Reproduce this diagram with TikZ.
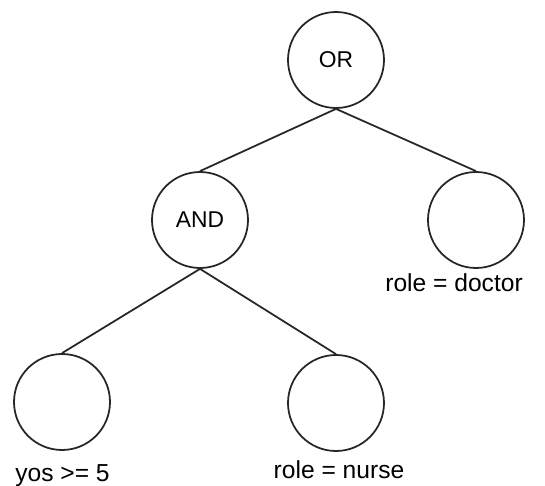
\documentclass[tikz,border=0pt]{standalone}
\usepackage{fontspec}
\setmainfont{Liberation Sans}

\tikzstyle{opnode}=[shape=circle,draw=black!85,line width=1pt,minimum size=1.92cm,inner sep=0pt,font=\fontsize{13}{15}\selectfont]
\tikzstyle{leaflabel}=[font=\fontsize{14}{16}\selectfont,inner sep=0pt]
\tikzstyle{edge}=[draw=black!85,line width=1pt,-]

\begin{document}
\begin{tikzpicture}
    \useasboundingbox (0,0) rectangle (10.9,9.72);
    %% nodes of the tree
    \foreach \nodename/\text/\x/\y in {
      or/OR/6.72/8.52,
      and/AND/4.0/5.32,
      doctor//9.52/5.32,
      yos//1.24/1.68,
      nurse//6.72/1.66}
    {
      \node[opnode] (\nodename) at (\x,\y) {\text};
    }
    %% conditions under the leaves
    \node[leaflabel] (yoscond) at (1.25,0.2) {yos >= 5};
    \node[leaflabel] (nursecond) at (6.78,0.32) {role = nurse};
    \node[leaflabel, anchor=west] (doctorcond) at (7.7,4.06) {role = doctor};
    %edges or lines
    \path
    \foreach \startnode/\endnode in {
      or/and, or/doctor, and/yos, and/nurse}
    {
      (\startnode.south) edge[edge] (\endnode.north)
    };
\end{tikzpicture}
\end{document}
